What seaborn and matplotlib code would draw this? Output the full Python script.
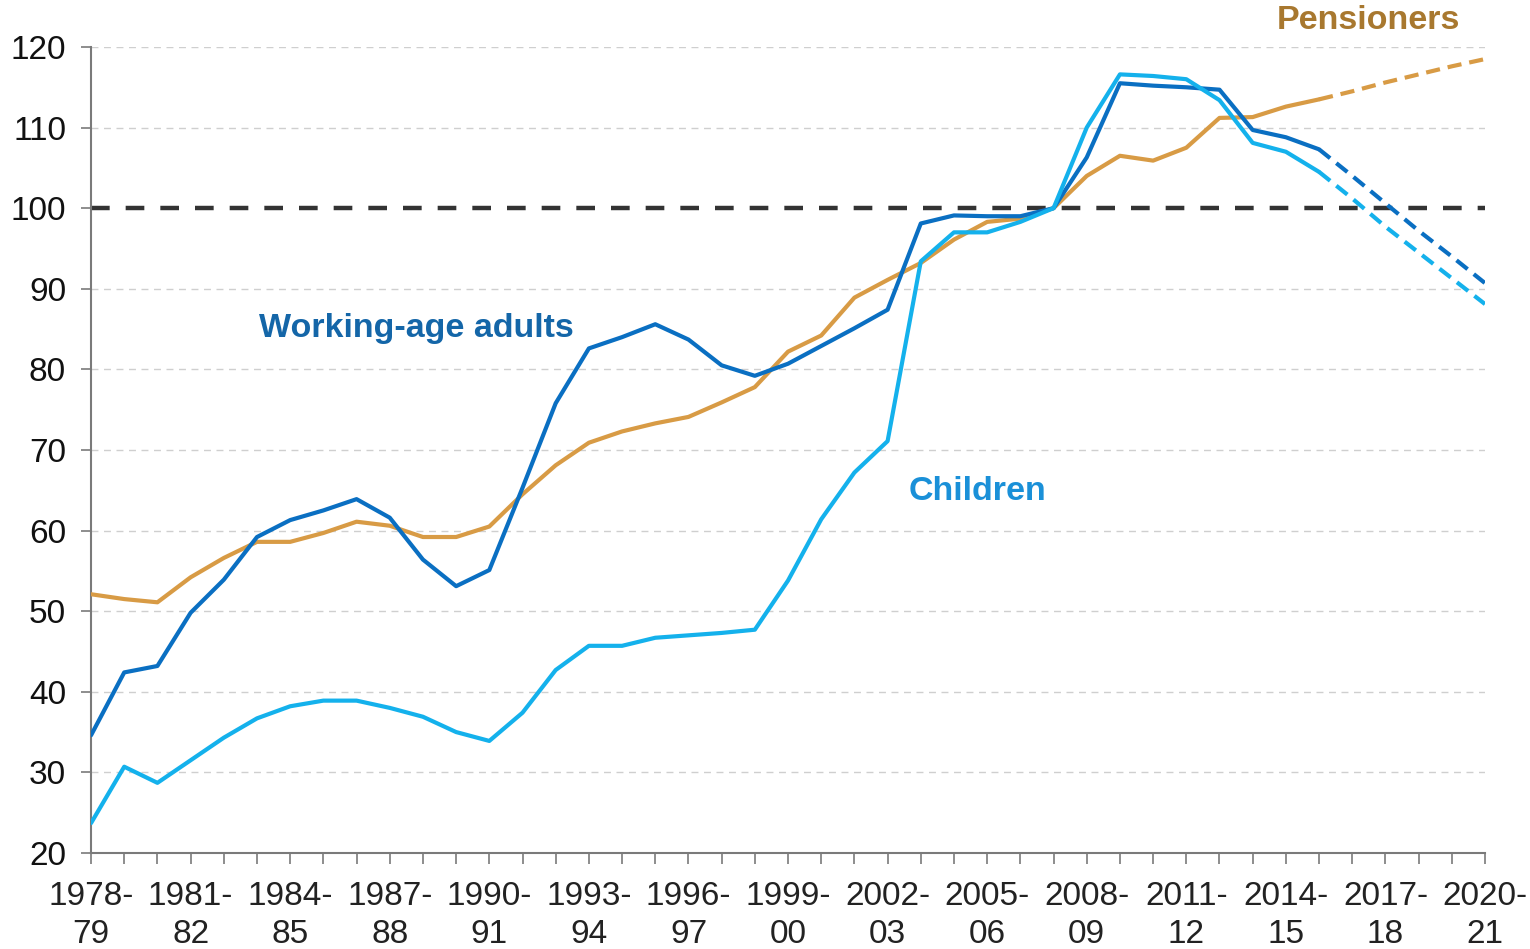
import matplotlib
matplotlib.use("Agg")
import matplotlib.pyplot as plt
import seaborn as sns
import pandas as pd
import numpy as np

years = [f"{y}-{str(y + 1)[-2:]}" for y in range(1978, 2021)]
tick_labels = [f"{y}-\n{str(y + 1)[-2:]}" for y in range(1978, 2021, 3)]

pensioners = [52.1, 51.5, 51.1, 54.2, 56.6, 58.6, 58.6, 59.7, 61.1, 60.6, 59.2, 59.2, 60.5,
              64.5, 68.1, 70.9, 72.3, 73.3, 74.1, 75.9, 77.8, 82.2, 84.2, 88.9, 91.1, 93.2,
              96.1, 98.3, 98.7, 100.0, 104.0, 106.5, 105.9, 107.5, 111.2, 111.3, 112.6, 113.5]
pensioners_proj = [113.5, 114.5, 115.6, 116.6, 117.6, 118.5]

working = [34.6, 42.4, 43.2, 49.8, 53.9, 59.2, 61.3, 62.5, 63.9, 61.6, 56.4, 53.1, 55.1,
           65.3, 75.8, 82.6, 84.0, 85.6, 83.7, 80.5, 79.2, 80.7, 82.9, 85.1, 87.4, 98.1,
           99.1, 99.0, 99.0, 100.0, 106.3, 115.5, 115.2, 115.0, 114.7, 109.7, 108.8, 107.3]
working_proj = [107.3, 104.0, 100.6, 97.2, 94.0, 90.7]

children = [23.7, 30.7, 28.7, 31.5, 34.3, 36.7, 38.2, 38.9, 38.9, 38.0, 36.9, 35.0, 33.9,
            37.4, 42.7, 45.7, 45.7, 46.7, 47.0, 47.3, 47.7, 53.8, 61.4, 67.2, 71.1, 93.4,
            97.0, 97.0, 98.3, 100.0, 110.0, 116.6, 116.4, 116.0, 113.4, 108.1, 107.0, 104.5]
children_proj = [104.5, 101.2, 97.7, 94.5, 91.3, 88.1]

C_PEN = "#D89B45"
C_WORK = "#0A6FC2"
C_CHILD = "#14B1EC"

sns.set_theme(style="white")
plt.rcParams["font.family"] = ["Liberation Sans", "DejaVu Sans"]

fig = plt.figure(figsize=(15.30, 9.49), dpi=100)
ax = fig.add_axes([0.0595, 0.1012, 0.9111, 0.8493])

idx_hist = np.arange(len(pensioners))
idx_proj = np.arange(len(pensioners) - 1, len(years))

for vals, proj, col in [(pensioners, pensioners_proj, C_PEN),
                        (working, working_proj, C_WORK),
                        (children, children_proj, C_CHILD)]:
    df_h = pd.DataFrame({"x": idx_hist, "y": vals})
    df_p = pd.DataFrame({"x": idx_proj, "y": proj})
    sns.lineplot(data=df_h, x="x", y="y", color=col, linewidth=3.0, ax=ax, zorder=3)
    sns.lineplot(data=df_p, x="x", y="y", color=col, linewidth=3.0, ax=ax, zorder=3,
                 linestyle=(0, (3.4, 1.9)))

ax.axhline(100, color="#333333", linewidth=3.2, linestyle=(0, (4.2, 3.6)), zorder=2)

ax.set_xlim(0, len(years) - 1)
ax.set_ylim(20, 120)
ax.set_yticks(range(20, 121, 10))
ax.set_xticks(range(0, len(years), 3))
ax.set_xticklabels(tick_labels, linespacing=1.32)
ax.set_xticks(range(len(years)), minor=True)
ax.set_xlabel("")
ax.set_ylabel("")

for yv in range(30, 121, 10):
    if yv != 100:
        ax.axhline(yv, color="#CFCFCF", linewidth=1.0, linestyle=(0, (5, 4)), zorder=1)

for side in ["top", "right"]:
    ax.spines[side].set_visible(False)
for side in ["left", "bottom"]:
    ax.spines[side].set_color("#7A7A7A")
    ax.spines[side].set_linewidth(1.5)

ax.tick_params(axis="x", which="both", direction="out", length=8, width=1.2,
               color="#7A7A7A", bottom=True, labelsize=24, pad=12, labelcolor="#222222")
ax.tick_params(axis="y", which="major", direction="out", length=7, width=1.2,
               color="#7A7A7A", left=True, labelsize=24, pad=11, labelcolor="#111111")

ax.text(9.8, 85.1, "Working-age adults", color="#1466A8", fontsize=24.5, fontweight="bold",
        ha="center", va="center")
ax.text(26.7, 64.8, "Children", color="#1A90D8", fontsize=24.5, fontweight="bold",
        ha="center", va="center")
ax.text(38.5, 123.3, "Pensioners", color="#A8782F", fontsize=24.5, fontweight="bold",
        ha="center", va="center", clip_on=False)

fig.savefig("out.png", dpi=100)
